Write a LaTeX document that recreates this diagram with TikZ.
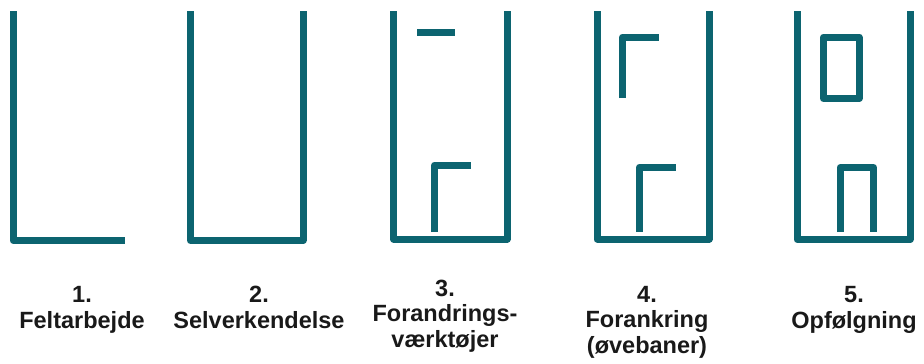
\documentclass[tikz,border=0pt]{standalone}
\usepackage{fontspec}
\setmainfont{Liberation Sans}
\definecolor{Petrol}{RGB}{12,100,112}
\definecolor{Skrift}{RGB}{25,25,25}

\begin{document}
\begin{tikzpicture}[x=1pt,y=-1pt,
  wall/.style={Petrol,line width=7pt,line join=round},
  trin/.style={Skrift,font=\fontsize{23.5}{25.5}\selectfont\bfseries,align=center,anchor=base,inner sep=0pt}]
  \useasboundingbox (0,0) rectangle (924,364);
  \draw[wall] (13,11)--(13,240.5)--(125,240.5);
  \draw[wall] (190.5,11) |- (303,240.5)--(303,11);
  \draw[wall] (393.5,11) |- (507,239)--(507,11);
  \draw[wall] (417,32.5)--(455,32.5);
  \draw[wall] (434.5,232) |- (471,165);
  \draw[wall] (597,11) |- (709,239)--(709,11);
  \draw[wall] (622.5,98) |- (659,37);
  \draw[wall] (639.5,232) |- (676,167);
  \draw[wall] (797,11) |- (910,239.5)--(910,11);
  \draw[wall] (823.5,37) rectangle (859,98.5);
  \draw[wall] (840,232) |- (873.5,167.5)--(873.5,232);
  \node[trin] (t1) at (82,328) {1.\\Feltarbejde};
  \node[trin] (t2) at (259,328) {2.\\Selverkendelse};
  \node[trin] (t3) at (445,347) {3.\\Forandrings-\\værktøjer};
  \node[trin] (t4) at (647,353) {4.\\Forankring\\(øvebaner)};
  \node[trin] (t5) at (854,328) {5.\\Opfølgning};
\end{tikzpicture}
\end{document}
